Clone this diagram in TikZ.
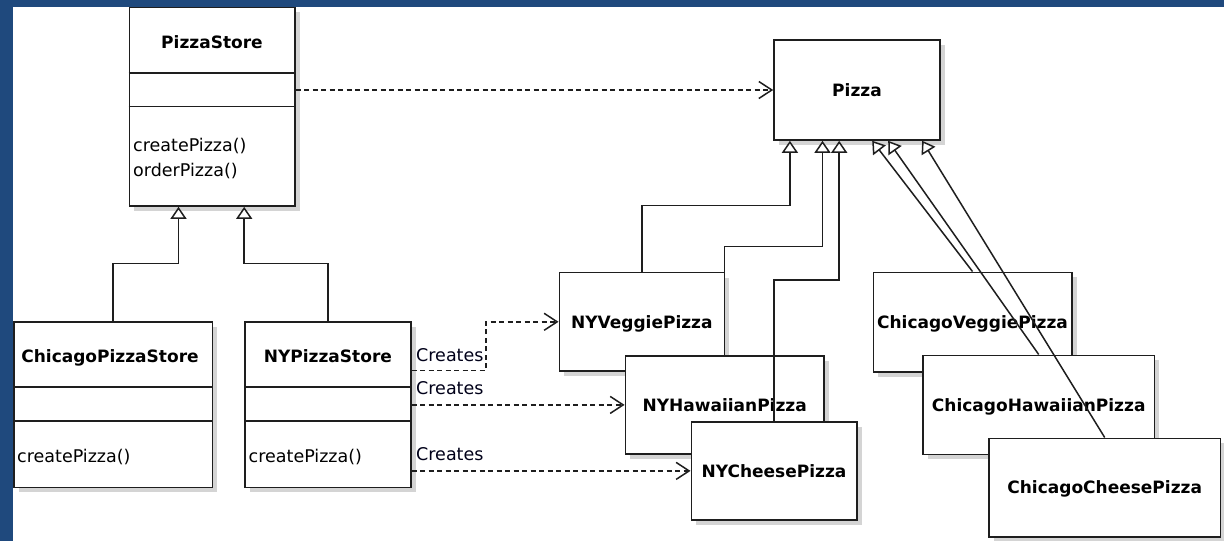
\documentclass[tikz,border=0pt]{standalone}
\usepackage{fontspec}
\setmainfont{DejaVu Sans}
\usetikzlibrary{arrows.meta,calc,shadows}
\definecolor{bordercol}{RGB}{31,73,125}
\definecolor{shadowcol}{RGB}{212,212,212}
\definecolor{linecol}{RGB}{30,30,30}
\begin{document}
\begin{tikzpicture}[x=1pt,y=-1pt,
  cls/.style={draw=linecol, line width=1.6pt, fill=white, inner sep=0pt,
    general shadow={fill=shadowcol, draw=none, shadow xshift=5pt, shadow yshift=-5pt},
    font=\fontsize{17}{20}\selectfont\bfseries, text height=12.4pt, text depth=0pt},
  ttl/.style={font=\fontsize{17}{20}\selectfont\bfseries, inner sep=0pt, text height=12.4pt, text depth=0pt},
  mth/.style={font=\fontsize{17.5}{21}\selectfont, inner sep=0pt, anchor=base west},
  lbl/.style={font=\fontsize{17.5}{21}\selectfont, inner sep=0pt, anchor=base west, text=black!90!blue},
  divider/.style={draw=linecol, line width=1.6pt},
  inh/.style={draw=linecol, line width=1.5pt, line join=miter,
    -{Triangle[fill=white, length=12pt, width=16pt]}},
  dep/.style={draw=linecol, line width=1.5pt, dash pattern=on 5pt off 3.5pt,
    -{Straight Barb[length=13pt, width=17pt]}}
]
% background and frame
\fill[bordercol] (0,0) rectangle (1224,541);
\fill[white] (12.7,6.7) rectangle (1224,541);
\useasboundingbox (0,0) rectangle (1224,541);

% ---- store classes ----
\node[cls, minimum width=165.4pt, minimum height=198.7pt] (ps) at (212,106.7) {};
\draw[divider] ($(ps.north west)+(0,66.4)$) -- ($(ps.north east)+(0,66.4)$);
\draw[divider] ($(ps.north west)+(0,100)$) -- ($(ps.north east)+(0,100)$);
\node[ttl] (pst) at (212,42.5) {PizzaStore};
\node[mth] (psm1) at (133,151.7) {createPizza()};
\node[mth] (psm2) at (133,176.2) {orderPizza()};

\node[cls, minimum width=198.6pt, minimum height=165.3pt] (chi) at (113,404.7) {};
\draw[divider] ($(chi.north west)+(0,66)$) -- ($(chi.north east)+(0,66)$);
\draw[divider] ($(chi.north west)+(0,99.7)$) -- ($(chi.north east)+(0,99.7)$);
\node[ttl] (chit) at (110,356.5) {ChicagoPizzaStore};
\node[mth] (chim) at (17,462) {createPizza()};

\node[cls, minimum width=165.7pt, minimum height=165.3pt] (ny) at (327.9,404.7) {};
\draw[divider] ($(ny.north west)+(0,66)$) -- ($(ny.north east)+(0,66)$);
\draw[divider] ($(ny.north west)+(0,99.7)$) -- ($(ny.north east)+(0,99.7)$);
\node[ttl] (nyt) at (327.9,356.5) {NYPizzaStore};
\node[mth] (nym) at (248.5,462) {createPizza()};

% ---- pizza classes ----
\node[cls, minimum width=166pt, minimum height=100pt] (pizza) at (857,90) {Pizza};
\node[cls, minimum width=165pt, minimum height=98.3pt] (nyv) at (641.8,321.8) {NYVeggiePizza};
\node[cls, minimum width=198.7pt, minimum height=98.3pt] (nyh) at (724.7,404.9) {NYHawaiianPizza};
\node[cls, minimum width=165.4pt, minimum height=98.3pt] (nyc) at (774,470.9) {NYCheesePizza};
\node[cls, minimum width=198.4pt, minimum height=99.4pt] (chv) at (972.5,322) {ChicagoVeggiePizza};
\node[cls, minimum width=231.3pt, minimum height=99pt] (chh) at (1038.7,404.8) {ChicagoHawaiianPizza};
\node[cls, minimum width=231.3pt, minimum height=98.4pt] (chc) at (1104.7,487.5) {ChicagoCheesePizza};

% ---- inheritance ----
\draw[inh] (chi.north) -- ++(0,-58) -| ($(ps.south west)+(50,0)$);
\draw[inh] (ny.north) -- ++(0,-58) -| ($(ps.south west)+(115.7,0)$);
\draw[inh] (nyv.north) -- ++(0,-66.4) -| ($(pizza.south west)+(16.7,0)$);
\draw[inh] (nyh.north) -- ++(0,-108.7) -| ($(pizza.south west)+(49.3,0)$);
\draw[inh] (nyc.north) -- ++(0,-141) -| ($(pizza.south west)+(66,0)$);
\draw[inh] (chv.north) -- ($(pizza.south west)+(99,0)$);
\draw[inh] (chh.north) -- ($(pizza.south west)+(115,0)$);
\draw[inh] (chc.north) -- ($(pizza.south west)+(149,0)$);

% ---- dependencies ----
\draw[dep] (pizza.west -| ps.east) -- (pizza.west);
\draw[dep] ($(ny.north east)+(0,49)$) -- ++(74.3,0) |- (nyv.west);
\draw[dep] (nyh.west -| ny.east) -- (nyh.west);
\draw[dep] (nyc.west -| ny.east) -- (nyc.west);
\node[lbl] (c1) at (416,361) {Creates};
\node[lbl] (c2) at (416,394) {Creates};
\node[lbl] (c3) at (416,460) {Creates};
\end{tikzpicture}
\end{document}
